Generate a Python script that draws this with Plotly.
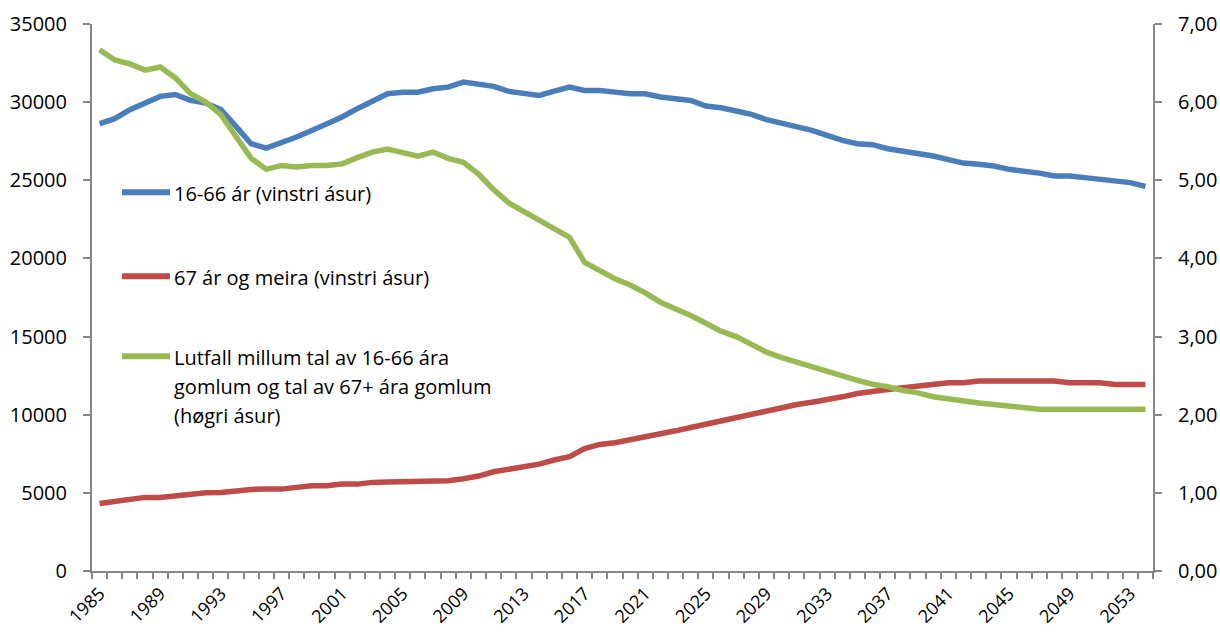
import plotly.graph_objects as go

years = list(range(1985, 2055))

# 16-66 year olds (left axis)
age_16_66 = [
    28620, 28940, 29520, 29900, 30370, 30490, 30110, 29940, 29520, 28450,
    27340, 27060, 27400, 27770, 28190, 28580, 29050, 29580, 30110, 30540,
    30640, 30640, 30860, 30960, 31280, 31110, 31010, 30690, 30540, 30430,
    30710, 30960, 30750, 30750, 30640, 30540, 30540, 30330, 30220, 30110,
    29750, 29640, 29430, 29220, 28880, 28660, 28450, 28190, 27870, 27550,
    27340, 27280, 27020, 26870, 26660, 26550, 26320, 26100, 26020, 25910,
    25700, 25590, 25460, 25270, 25270, 25170, 25060, 24950, 24850, 24610,
]

# 67 years and older (left axis)
age_67_plus = [
    4325, 4475, 4580, 4710, 4710, 4815, 4920, 5010, 5030, 5135,
    5220, 5240, 5240, 5350, 5455, 5455, 5560, 5560, 5670, 5690,
    5690, 5690, 5775, 5775, 5900, 6075, 6350, 6500, 6605, 6840,
    7100, 7310, 7840, 8100, 8205, 8375, 8545, 8760, 8970, 9185,
    9400, 9650, 9800, 10040, 10290, 10480, 10650, 10800, 10950, 11145,
    11360, 11510, 11615, 11720, 11830, 11935, 12040, 12040, 12150, 12150,
    12150, 12150, 12150, 12150, 12040, 12040, 12040, 11935, 11935, 11935,
]

# Ratio between the two groups (right axis)
ratio = [
    6.67, 6.54, 6.49, 6.41, 6.45, 6.31, 6.11, 6.00, 5.84, 5.55,
    5.28, 5.14, 5.19, 5.17, 5.19, 5.19, 5.21, 5.29, 5.36, 5.40,
    5.36, 5.31, 5.36, 5.28, 5.23, 5.08, 4.88, 4.71, 4.60, 4.49,
    4.38, 4.27, 3.95, 3.84, 3.74, 3.66, 3.56, 3.44, 3.36, 3.27,
    3.17, 3.07, 3.00, 2.90, 2.80, 2.73, 2.67, 2.62, 2.55, 2.49,
    2.44, 2.39, 2.36, 2.31, 2.28, 2.23, 2.20, 2.18, 2.15, 2.13,
    2.11, 2.10, 2.07, 2.07, 2.07, 2.07, 2.07, 2.07, 2.07, 2.07,
]

x_tick_years = list(range(1985, 2054, 4))

legend_labels = [
    ["16-66 ár (vinstri ásur)"],
    ["67 ár og meira (vinstri ásur)"],
    ["Lutfall millum tal av 16-66 ára",
     "gomlum og tal av 67+ ára gomlum",
     "(høgri ásur)"],
]

BLUE = "#4A7EBB"
RED = "#BE4B48"
GREEN = "#98B954"
AXIS = "#868686"
FONT = "Open Sans"

# plot area in pixels
PL, PR, PT, PB = 92, 1153, 23.5, 571
PW, PH = PR - PL, PB - PT


def px_x(x):
    return (x - PL) / PW


def px_y(y):
    return 1 - (y - PT) / PH


fig = go.Figure()
fig.add_trace(go.Scatter(x=years, y=age_16_66, mode="lines",
                         line=dict(color=BLUE, width=5.5), yaxis="y"))
fig.add_trace(go.Scatter(x=years, y=age_67_plus, mode="lines",
                         line=dict(color=RED, width=5.5), yaxis="y"))
fig.add_trace(go.Scatter(x=years, y=ratio, mode="lines",
                         line=dict(color=GREEN, width=5.5), yaxis="y2"))

# Legend: sample line plus text, placed inside the plot area
legend_rows = [(BLUE, 192), (RED, 276), (GREEN, 356)]
shapes = []
annotations = []
for (color, ypix), lines in zip(legend_rows, legend_labels):
    shapes.append(dict(type="line", xref="paper", yref="paper",
                       x0=px_x(122), x1=px_x(170),
                       y0=px_y(ypix), y1=px_y(ypix),
                       line=dict(color=color, width=6)))
    for i, txt in enumerate(lines):
        annotations.append(dict(
            text=txt, xref="paper", yref="paper",
            x=px_x(172), y=px_y(ypix + 1 + i * 29),
            xanchor="left", yanchor="middle", showarrow=False,
            font=dict(family=FONT, size=20, color="#000000"),
        ))

fig.update_layout(
    width=1220, height=633,
    margin=dict(l=PL, r=1220 - PR, t=PT, b=633 - PB, autoexpand=False),
    paper_bgcolor="white", plot_bgcolor="white",
    showlegend=False,
    separators=",.",
    font=dict(family=FONT, size=20, color="#000000"),
    xaxis=dict(
        range=[1984.5, 2054.5],
        tickvals=x_tick_years,
        ticktext=[str(y) for y in x_tick_years],
        tickangle=-45,
        ticks="",
        ticklabelstandoff=3,
        automargin=False,
        showline=True, linecolor=AXIS, linewidth=2,
        showgrid=False, zeroline=False,
        tickfont=dict(family=FONT, size=18),
        minor=dict(tick0=1984.5, dtick=1, ticks="outside", ticklen=6,
                   tickwidth=2, tickcolor=AXIS, showgrid=False),
    ),
    yaxis=dict(
        range=[0, 35000], dtick=5000, tickformat="d",
        showline=True, linecolor=AXIS, linewidth=2,
        ticks="outside", ticklen=7, tickwidth=2, tickcolor=AXIS,
        ticklabelstandoff=12,
        automargin=False,
        showgrid=False, zeroline=False,
        tickfont=dict(family=FONT, size=20),
    ),
    yaxis2=dict(
        range=[0, 7], dtick=1, tickformat=".2f",
        overlaying="y", side="right",
        showline=True, linecolor=AXIS, linewidth=2,
        ticks="outside", ticklen=7, tickwidth=2, tickcolor=AXIS,
        ticklabelstandoff=12,
        automargin=False,
        showgrid=False, zeroline=False,
        tickfont=dict(family=FONT, size=20),
    ),
    shapes=shapes,
    annotations=annotations,
)

fig.write_html("out.html")
